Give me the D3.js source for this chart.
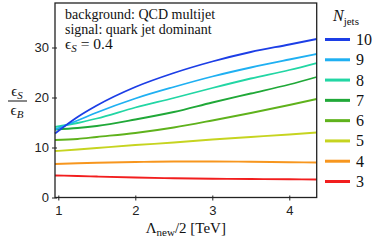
<!DOCTYPE html>
<html>
<head>
<meta charset="utf-8">
<script src="https://cdn.jsdelivr.net/npm/d3@7"></script>
<style>
  body { margin: 0; background: #fff; }
  svg { display: block; }
  .tick text { font-family: "Liberation Sans", Arial, sans-serif; font-size: 13px; fill: #222; }
  text.serif { font-family: "Liberation Serif", "Times New Roman", Times, serif; fill: #111; }
</style>
</head>
<body>
<svg id="chart" width="374" height="240"></svg>
<script>
var xVals = [0.957, 1.25, 1.5, 2, 2.5, 3, 3.5, 4, 4.356];
var njets = [10, 9, 8, 7, 6, 5, 4, 3];
var s10 = [12.8, 16.1, 18.4, 22.1, 24.9, 27.2, 29.1, 30.6, 31.7];
var s9  = [13.6, 15.4, 17.0, 19.8, 22.1, 24.2, 26.0, 27.6, 28.7];
var s8  = [14.1, 14.9, 15.8, 18.0, 19.9, 21.9, 23.8, 25.5, 26.9];
var s7  = [13.6, 13.9, 14.3, 15.6, 17.1, 19.0, 20.8, 22.6, 24.1];
var s6  = [11.5, 11.7, 12.1, 12.9, 14.0, 15.4, 16.9, 18.5, 19.7];
var s5  = [9.3, 9.6, 9.9, 10.5, 11.0, 11.6, 12.1, 12.6, 13.0];
var s4  = [6.7, 6.85, 6.95, 7.1, 7.2, 7.2, 7.15, 7.05, 7.0];
var s3  = [4.4, 4.3, 4.2, 4.0, 3.85, 3.75, 3.7, 3.65, 3.6];
var seriesVals = [s10, s9, s8, s7, s6, s5, s4, s3];
var colors = ["#1c3ee6", "#1fb0f2", "#22d6a4", "#20a838", "#5fb21c", "#c6d420", "#f7961e", "#f21e1e"];
var xTicks = [1, 2, 3, 4];
var yTicks = [0, 10, 20, 30];

var plotL = 55, plotT = 3, plotR = 316.7, plotB = 197.5;
var svg = d3.select("#chart");

var x = d3.scaleLinear().domain([0.957, 4.356]).range([plotL, plotR]);
var y = d3.scaleLinear().domain([0, 38.9]).range([plotB, plotT]);

var line = d3.line()
  .x(function(d, i){ return x(xVals[i]); })
  .y(function(d){ return y(d); })
  .curve(d3.curveMonotoneX);

// draw low N first so blue sits on top
for (var k = seriesVals.length - 1; k >= 0; k--) {
  svg.append("path")
    .datum(seriesVals[k])
    .attr("fill", "none")
    .attr("stroke", colors[k])
    .attr("stroke-width", 1.8)
    .attr("d", line);
}

// axes
svg.append("g")
  .attr("transform", "translate(0," + plotB + ")")
  .call(d3.axisBottom(x).tickValues(xTicks).tickFormat(d3.format("d")).tickSize(3).tickPadding(5))
  .call(function(g){ g.select(".domain").remove(); })
  .selectAll("line").attr("stroke", "#222").attr("y1", -2);

svg.append("g")
  .attr("transform", "translate(" + plotL + ",0)")
  .call(d3.axisLeft(y).tickValues(yTicks).tickSize(3).tickPadding(3))
  .call(function(g){ g.select(".domain").remove(); })
  .selectAll("line").attr("stroke", "#222").attr("x1", 2);

svg.append("rect")
  .attr("x", plotL).attr("y", plotT)
  .attr("width", plotR - plotL).attr("height", plotB - plotT)
  .attr("fill", "none").attr("stroke", "#222").attr("stroke-width", 1.3);

// annotation
var notes = ["background: QCD multijet", "signal: quark jet dominant"];
notes.forEach(function(t, i){
  svg.append("text").attr("class", "serif")
    .attr("x", 65).attr("y", 19 + i * 14.5)
    .style("font-size", "14px").text(t);
});
var eps = svg.append("text").attr("class", "serif").attr("x", 65).attr("y", 49).style("font-size", "15.5px");
eps.append("tspan").text("ϵ");
eps.append("tspan").attr("dy", 3).style("font-size", "11px").style("font-style", "italic").text("S");
eps.append("tspan").attr("dy", -3).text(" = 0.4");

// axis titles
var xt = svg.append("text").attr("class", "serif")
  .attr("x", (plotL + plotR) / 2).attr("y", 233).attr("text-anchor", "middle").style("font-size", "15px");
xt.append("tspan").text("Λ");
xt.append("tspan").attr("dy", 3).style("font-size", "11px").text("new");
xt.append("tspan").attr("dy", -3).text("/2 [TeV]");

var yt1 = svg.append("text").attr("class", "serif").attr("x", 17).attr("y", 96).attr("text-anchor", "middle").style("font-size", "15px");
yt1.append("tspan").text("ϵ");
yt1.append("tspan").attr("dy", 3).style("font-size", "11px").style("font-style", "italic").text("S");
svg.append("line").attr("x1", 8).attr("x2", 27).attr("y1", 101).attr("y2", 101).attr("stroke", "#111").attr("stroke-width", 1);
var yt2 = svg.append("text").attr("class", "serif").attr("x", 17).attr("y", 115).attr("text-anchor", "middle").style("font-size", "15px");
yt2.append("tspan").text("ϵ");
yt2.append("tspan").attr("dy", 3).style("font-size", "11px").style("font-style", "italic").text("B");

// legend
var lt = svg.append("text").attr("class", "serif").attr("x", 333).attr("y", 21).style("font-size", "16px");
lt.append("tspan").style("font-style", "italic").text("N");
lt.append("tspan").attr("dy", 4).style("font-size", "11px").text("jets");

var legY = d3.scaleLinear().domain([0, njets.length - 1]).range([39.5, 181.5]);
njets.forEach(function(n, i){
  svg.append("line")
    .attr("x1", 325).attr("x2", 350)
    .attr("y1", legY(i)).attr("y2", legY(i))
    .attr("stroke", colors[i]).attr("stroke-width", 3);
  svg.append("text").attr("class", "serif")
    .attr("x", 356).attr("y", legY(i) + 5.5)
    .style("font-size", "16px").text(n);
});
</script>
</body>
</html>
